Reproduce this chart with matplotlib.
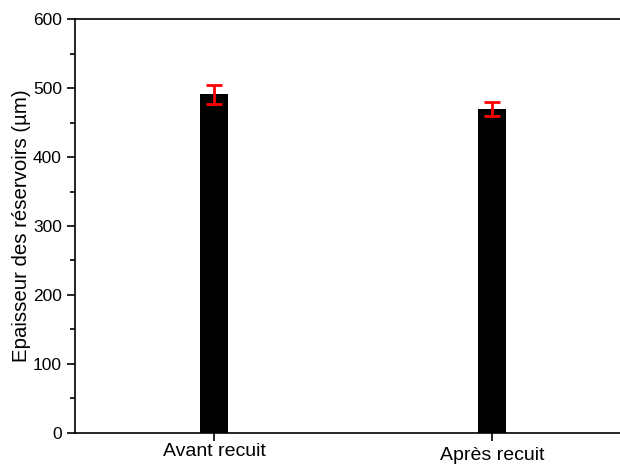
import matplotlib
matplotlib.use('Agg')
import matplotlib.pyplot as plt
from matplotlib.ticker import MultipleLocator

categories = ["Avant recuit", "Après recuit"]
thickness = [491, 470]
errors = [13.5, 10]
label_drop = [0, 3]  # the accented label sits a bit lower in the original

plt.rcParams['font.family'] = ['Liberation Sans', 'DejaVu Sans']

fig = plt.figure(figsize=(6.2, 4.65), dpi=100)
ax = fig.add_axes([0.121, 0.069, 0.879, 0.89])

x = [1, 2]
ax.bar(x, thickness, width=0.1, color='black', zorder=2)
ax.errorbar(x, thickness, yerr=errors, fmt='none', ecolor='red',
            elinewidth=2, capsize=6, capthick=2, zorder=3)

ax.set_xlim(0.5, 2.46)
ax.set_ylim(0, 600)
ax.yaxis.set_major_locator(MultipleLocator(100))
ax.yaxis.set_minor_locator(MultipleLocator(50))
ax.set_xticks(x)
ax.set_xticklabels([])
for xi, name, d in zip(x, categories, label_drop):
    ax.annotate(name, xy=(xi, 0), xycoords=('data', 'axes fraction'),
                xytext=(0, -7.5 - d), textcoords='offset points',
                ha='center', va='top', fontsize=14)

ax.spines['right'].set_visible(False)
for s in ['left', 'top', 'bottom']:
    ax.spines[s].set_linewidth(1.2)
ax.tick_params(axis='y', which='major', direction='out', length=6, width=1.2, labelsize=12.5)
ax.tick_params(axis='y', which='minor', direction='out', length=3.5, width=1.2)
ax.tick_params(axis='x', direction='out', length=6, width=1.2)
ax.set_ylabel("Epaisseur des réservoirs (µm)", fontsize=14.7, labelpad=1)

fig.savefig("out.png", dpi=100)
